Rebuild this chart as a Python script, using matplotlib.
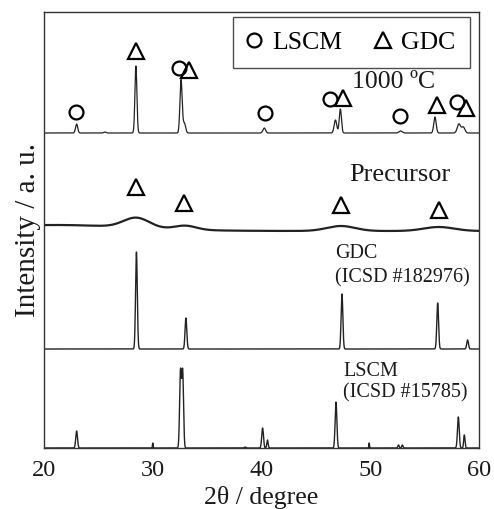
import numpy as np
import matplotlib
matplotlib.use("Agg")
import matplotlib.pyplot as plt
from matplotlib.lines import Line2D

plt.rcParams['font.family'] = ['Liberation Serif', 'DejaVu Serif']

# peak lists: position (2theta), height (a.u.), gaussian sigma (deg)
c1000_pos = [23.0, 25.6, 28.45, 32.6, 32.9, 40.25, 46.8, 47.25, 52.8, 55.95, 58.15, 58.55]
c1000_hgt = [9, 1, 67, 53, 10, 5, 13, 24, 2, 16, 9, 6]
c1000_sig = [0.1, 0.1, 0.09, 0.1, 0.12, 0.12, 0.12, 0.1, 0.15, 0.11, 0.15, 0.15]

pre_pos = [21.0, 28.5, 33.0, 47.3, 56.3]
pre_hgt = [6, 10, 4, 5, 4]
pre_sig = [7.0, 1.2, 1.0, 1.3, 1.4]

gdc_pos = [28.5, 33.05, 47.4, 56.2, 58.95]
gdc_hgt = [97, 31, 55, 46, 9]
gdc_sig = [0.08, 0.08, 0.08, 0.08, 0.08]

lscm_pos = [23.0, 30.0, 32.55, 32.75, 38.5, 40.1, 40.55, 46.85, 49.9, 52.6, 52.95, 58.1, 58.65]
lscm_hgt = [17, 5, 76, 76, 1, 20, 8, 46, 5, 3, 3, 31, 13]
lscm_sig = [0.08, 0.03, 0.08, 0.08, 0.07, 0.08, 0.06, 0.08, 0.03, 0.06, 0.06, 0.08, 0.06]

# marker positions (2theta, intensity)
c1000_circ_x = [22.9, 32.4, 40.3, 46.3, 52.7, 58.0]
c1000_circ_y = [336, 380, 335, 349, 332, 346]
c1000_tri_x = [28.43, 33.36, 47.5, 56.1, 58.8]
c1000_tri_y = [397, 378, 350, 343, 340]
pre_tri_x = [28.43, 32.9, 47.3, 56.3]
pre_tri_y = [261, 245, 243, 238]


def pattern(x, pos, hgt, sig):
    y = np.zeros_like(x)
    for p, h, s in zip(pos, hgt, sig):
        y += h * np.exp(-0.5 * ((x - p) / s) ** 2)
    return y


tt = np.linspace(20, 60, 4000)

fig = plt.figure(figsize=(4.94, 5.09), dpi=100)
ax = fig.add_axes([44/494, 61/509, 435/494, 436/509])

lc = '#222222'
ax.plot(tt, 315 + pattern(tt, c1000_pos, c1000_hgt, c1000_sig), color=lc, lw=0.9)
ax.plot(tt, 217 + pattern(tt, pre_pos, pre_hgt, pre_sig), color=lc, lw=1.6)
ax.plot(tt, 99 + pattern(tt, gdc_pos, gdc_hgt, gdc_sig), color=lc, lw=1.0)
ax.plot(tt, 0 + pattern(tt, lscm_pos, lscm_hgt, lscm_sig), color=lc, lw=1.0)

mk = dict(linestyle='none', mfc='none', mec='black', mew=1.6)
ax.plot(c1000_circ_x, c1000_circ_y, marker='o', ms=10, **mk)
ax.plot(c1000_tri_x, c1000_tri_y, marker='^', ms=11, **mk)
ax.plot(pre_tri_x, pre_tri_y, marker='^', ms=11, **mk)

tc = '#1a1a1a'
ax.text(48.3, 366, '1000 ºC', fontsize=18.5, va='center', ha='left', color=tc)
ax.text(48.1, 273, 'Precursor', fontsize=19, va='center', ha='left', color=tc)
ax.text(46.8, 195, 'GDC', fontsize=14.5, va='center', ha='left', color=tc)
ax.text(46.8, 170, '(ICSD #182976)', fontsize=14.5, va='center', ha='left', color=tc)
ax.text(47.5, 77, 'LSCM', fontsize=14.5, va='center', ha='left', color=tc)
ax.text(47.5, 55, '(ICSD #15785)', fontsize=14.5, va='center', ha='left', color=tc)

handles = [Line2D([], [], marker='o', ms=10, **mk),
           Line2D([], [], marker='^', ms=11, **mk)]
leg = ax.legend(handles, ['LSCM', 'GDC'], ncol=2, loc='upper right',
                bbox_to_anchor=(0.979, 0.9885), fontsize=18.5, frameon=True,
                fancybox=False, edgecolor='#222222', handlelength=0.6,
                handletextpad=0.4, columnspacing=1.3, borderpad=0.55,
                borderaxespad=0)
leg.get_frame().set_linewidth(1.0)

ax.set_xlim(20, 60)
ax.set_ylim(0, 436)
ax.set_xticks([20, 30, 40, 50, 60])
ax.set_yticks([])
ax.tick_params(axis='x', length=0, labelsize=17.5, pad=9, labelcolor=tc)
for s in ax.spines.values():
    s.set_color('#333333')
    s.set_linewidth(1.0)
ax.set_xlabel('2θ / degree', fontsize=18.5, labelpad=3, color=tc)
ax.set_ylabel('Intensity / a. u.', fontsize=21, labelpad=2, color=tc)

fig.savefig('out.png', dpi=100)
